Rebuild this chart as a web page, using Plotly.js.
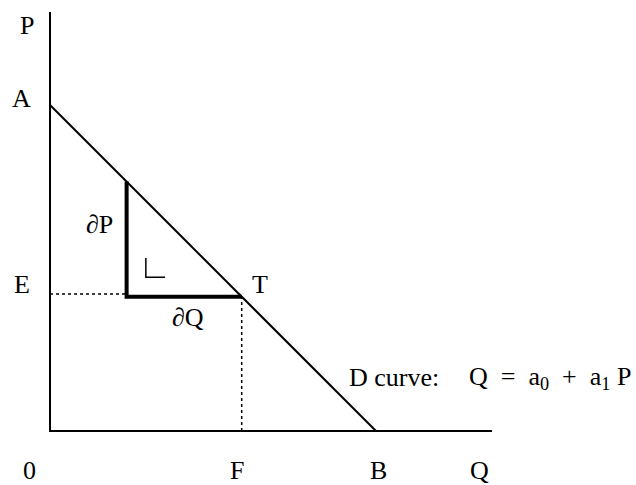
<!DOCTYPE html>
<html>
<head>
<meta charset="utf-8">
<script src="https://cdn.plot.ly/plotly-3.0.1.min.js"></script>
<style>html,body{margin:0;padding:0;background:#fff;}#chart{width:636px;height:485px;}</style>
</head>
<body>
<div id="chart"></div>
<script>
// Demand curve endpoints A (on P axis) and B (on Q axis), and point T
const demandQ = [0, 10];
const demandP = [10, 0];
const pointT = {Q: 5.88, P: 4.12};
const triangleLeftQ = 2.35;         // left edge of the dP / dQ triangle
const axisEnd = {Q: 13.56, P: 12.85};
const rightAngleQ = [2.94, 2.94, 3.53];
const rightAngleP = [5.31, 4.72, 4.72];

const labelTexts = ['P', 'A', 'E', '0', 'F', 'B', 'Q', 'T', '\u2202P', '\u2202Q'];
const labelQ = [-0.71, -0.86, -0.86, -0.64, 5.74, 10.09, 13.16, 6.44, 1.53, 4.23];
const labelP = [12.45, 10.21, 4.48, -1.2, -1.2, -1.2, -1.2, 4.48, 6.32, 3.47];
const curveLabel = 'D curve:';
const equation = 'Q\u00A0\u00A0=\u00A0\u00A0a<sub>0</sub>\u00A0\u00A0+\u00A0\u00A0a<sub>1</sub>\u00A0P';

const FONT = 'Liberation Serif, Times New Roman, serif';
const FS = 26;
const blk = 'black';

const tTopP = demandP[0] - (demandP[0] / demandQ[1]) * triangleLeftQ;

const traces = [
  // axes
  {x: [0, 0, axisEnd.Q], y: [axisEnd.P, 0, 0], mode: 'lines', line: {color: blk, width: 2}},
  // demand curve
  {x: demandQ, y: demandP, mode: 'lines', line: {color: blk, width: 2}},
  // triangle legs
  {x: [triangleLeftQ, triangleLeftQ, pointT.Q], y: [tTopP, pointT.P, pointT.P], mode: 'lines', line: {color: blk, width: 4}},
  // dotted guides
  {x: [0, triangleLeftQ], y: [pointT.P + 0.08, pointT.P + 0.08], mode: 'lines', line: {color: blk, width: 1.5, dash: 'dot'}},
  {x: [pointT.Q, pointT.Q], y: [0, pointT.P], mode: 'lines', line: {color: blk, width: 1.5, dash: 'dot'}},
  // right-angle mark
  {x: rightAngleQ, y: rightAngleP, mode: 'lines', line: {color: blk, width: 1.5}}
];

const annotations = labelTexts.map((t, i) => ({
  x: labelQ[i], y: labelP[i], xref: 'x', yref: 'y', text: t, showarrow: false,
  font: {family: FONT, size: FS, color: blk}, xanchor: 'center', yanchor: 'middle'
}));
annotations.push({x: 9.1, y: 1.63, xref: 'x', yref: 'y', text: curveLabel, showarrow: false,
  font: {family: FONT, size: FS, color: blk}, xanchor: 'left', yanchor: 'middle'});
annotations.push({x: 12.78, y: 1.63, xref: 'x', yref: 'y', text: equation, showarrow: false,
  font: {family: FONT, size: FS, color: blk}, xanchor: 'left', yanchor: 'middle'});

const layout = {
  width: 636, height: 485,
  margin: {l: 0, r: 0, t: 0, b: 0, pad: 0},
  paper_bgcolor: 'white', plot_bgcolor: 'white',
  showlegend: false,
  xaxis: {range: [-1.534, 17.975], visible: false, fixedrange: true},
  yaxis: {range: [-1.656, 13.221], visible: false, fixedrange: true},
  annotations: annotations
};

Plotly.newPlot('chart', traces.map(t => Object.assign({hoverinfo: 'skip', cliponaxis: false}, t)), layout, {staticPlot: true});
</script>
</body>
</html>
